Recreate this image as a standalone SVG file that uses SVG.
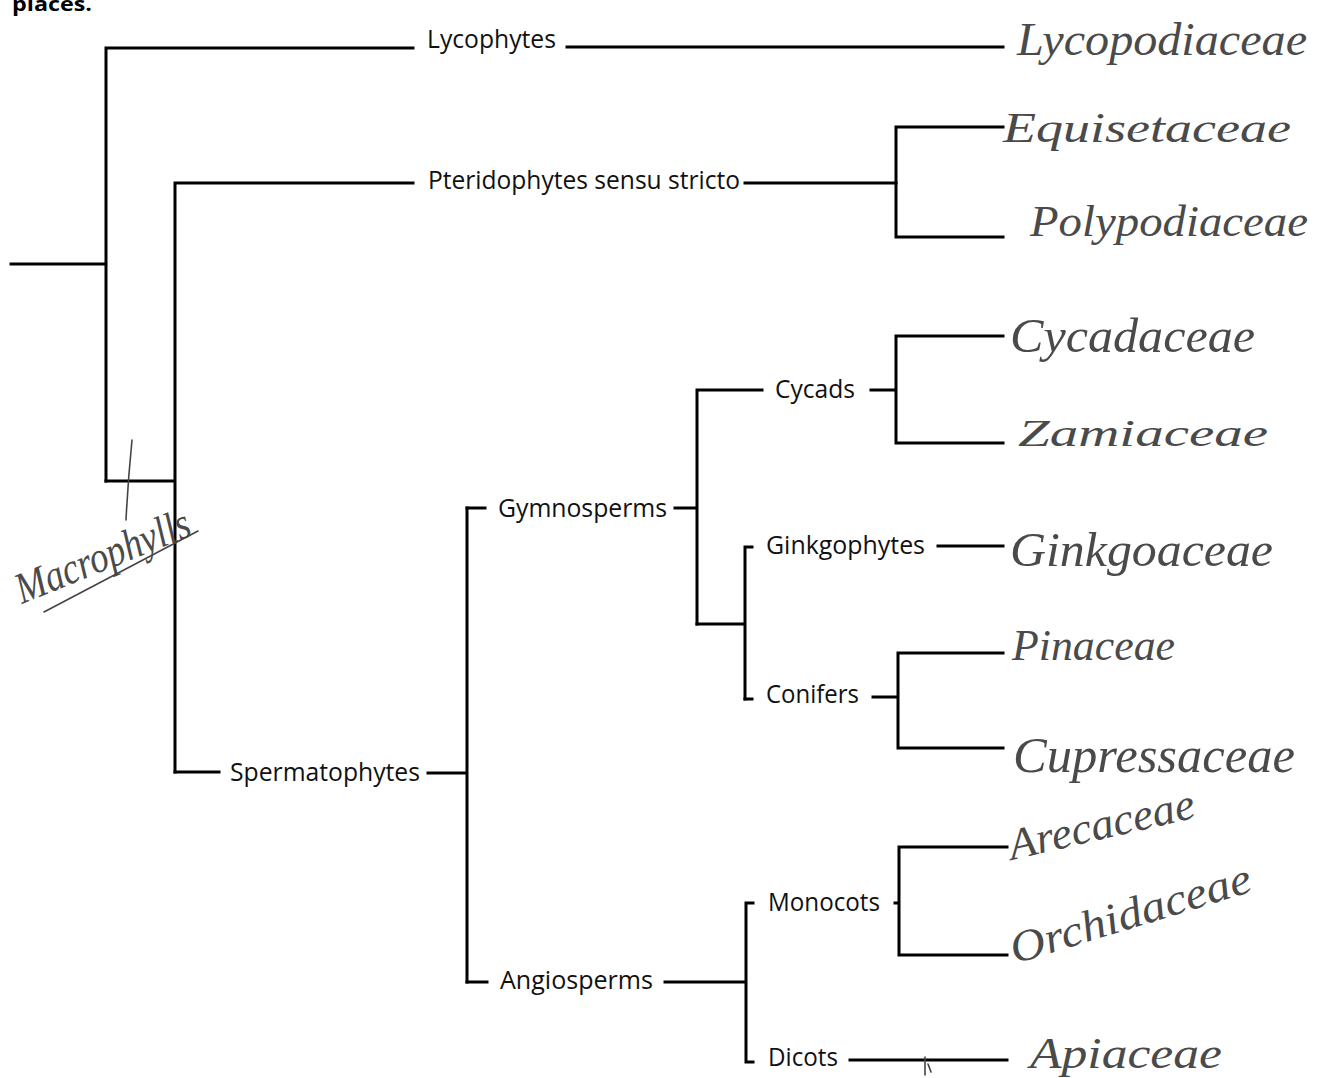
<svg xmlns="http://www.w3.org/2000/svg" width="1335" height="1078" viewBox="0 0 1335 1078">
  <style>
    .edge { fill: none; stroke: #000; stroke-width: 3; stroke-linecap: square; }
    .lbl { font-family: "Open Sans", "Liberation Sans", sans-serif; font-size: 25px; fill: #111; }
    .hand { font-family: "Liberation Serif", "DejaVu Serif", serif; font-style: italic; fill: #4a4a4a; }
    .pen { fill: none; stroke: #444; stroke-width: 1.6; stroke-linecap: round; }
    .head { font-family: "Open Sans", "Liberation Sans", sans-serif; font-weight: bold; font-size: 20px; fill: #000; }
  </style>
  <rect width="1335" height="1078" fill="#fff"/>

  <!-- heading fragment at the top edge -->
  <text class="head" x="12" y="11" textLength="80" lengthAdjust="spacingAndGlyphs">places.</text>

  <!-- tree branches -->
  <g id="connectors">
    <path class="edge" d="M11 264 H106 M106 48 V481 M106 48 H413 M567 47 H1003"/>
    <path class="edge" d="M106 481 H175 M175 183 V772 M175 183 H413 M745 183 H896"/>
    <path class="edge" d="M896 127 V237 M896 127 H1003 M896 237 H1003"/>
    <path class="edge" d="M175 772 H219 M428 773 H467 M467 508 V982"/>
    <path class="edge" d="M467 508 H485 M675 508 H697 M697 390 V624 M697 390 H762"/>
    <path class="edge" d="M871 390 H896 M896 336 V443 M896 336 H1003 M896 443 H1003"/>
    <path class="edge" d="M697 624 H745 M745 547 V699 M745 547 H752 M938 546 H1003"/>
    <path class="edge" d="M745 699 H752 M873 697 H898 M898 653 V748 M898 653 H1003 M898 748 H1003"/>
    <path class="edge" d="M467 982 H487 M665 982 H746 M746 903 V1062 M746 903 H753 M746 1062 H753"/>
    <path class="edge" d="M895 903 H899 M899 847 V955 M899 847 H1007 M899 955 H1007 M850 1060 H1007"/>
  </g>

  <!-- printed clade labels -->
  <g id="lycophytes"><text class="lbl" x="427" y="48" textLength="129" lengthAdjust="spacingAndGlyphs">Lycophytes</text></g>
  <g id="pteridophytes"><text class="lbl" x="428" y="189" textLength="312" lengthAdjust="spacingAndGlyphs">Pteridophytes sensu stricto</text></g>
  <g id="spermatophytes"><text class="lbl" x="230" y="781" textLength="190" lengthAdjust="spacingAndGlyphs">Spermatophytes</text></g>
  <g id="gymnosperms"><text class="lbl" x="498" y="517" textLength="169" lengthAdjust="spacingAndGlyphs">Gymnosperms</text></g>
  <g id="cycads"><text class="lbl" x="775" y="398" textLength="80" lengthAdjust="spacingAndGlyphs">Cycads</text></g>
  <g id="ginkgophytes"><text class="lbl" x="766" y="554" textLength="159" lengthAdjust="spacingAndGlyphs">Ginkgophytes</text></g>
  <g id="conifers"><text class="lbl" x="766" y="703" textLength="93" lengthAdjust="spacingAndGlyphs">Conifers</text></g>
  <g id="angiosperms"><text class="lbl" x="500" y="989" textLength="153" lengthAdjust="spacingAndGlyphs">Angiosperms</text></g>
  <g id="monocots"><text class="lbl" x="768" y="911" textLength="112" lengthAdjust="spacingAndGlyphs">Monocots</text></g>
  <g id="dicots"><text class="lbl" x="768" y="1066" textLength="70" lengthAdjust="spacingAndGlyphs">Dicots</text></g>

  <!-- handwritten family names -->
  <g id="lycopodiaceae"><text class="hand" x="1017" y="55" font-size="46" textLength="290" lengthAdjust="spacingAndGlyphs">Lycopodiaceae</text></g>
  <g id="equisetaceae"><text class="hand" x="1003" y="142" font-size="42" textLength="288" lengthAdjust="spacingAndGlyphs">Equisetaceae</text></g>
  <g id="polypodiaceae"><text class="hand" x="1030" y="236" font-size="44" textLength="278" lengthAdjust="spacingAndGlyphs">Polypodiaceae</text></g>
  <g id="cycadaceae"><text class="hand" x="1010" y="352" font-size="48" textLength="245" lengthAdjust="spacingAndGlyphs">Cycadaceae</text></g>
  <g id="zamiaceae"><text class="hand" x="1018" y="446" font-size="38" textLength="250" lengthAdjust="spacingAndGlyphs">Zamiaceae</text></g>
  <g id="ginkgoaceae"><text class="hand" x="1010" y="566" font-size="48" textLength="263" lengthAdjust="spacingAndGlyphs">Ginkgoaceae</text></g>
  <g id="pinaceae"><text class="hand" x="1012" y="660" font-size="44" textLength="163" lengthAdjust="spacingAndGlyphs">Pinaceae</text></g>
  <g id="cupressaceae"><text class="hand" x="1013" y="772" font-size="50" textLength="282" lengthAdjust="spacingAndGlyphs">Cupressaceae</text></g>
  <g id="arecaceae"><text class="hand" x="1012" y="860" font-size="44" textLength="190" lengthAdjust="spacingAndGlyphs" transform="rotate(-13 1012 860)">Arecaceae</text></g>
  <g id="orchidaceae"><text class="hand" x="1015" y="964" font-size="44" textLength="250" lengthAdjust="spacingAndGlyphs" transform="rotate(-17 1015 964)">Orchidaceae</text></g>
  <g id="apiaceae"><text class="hand" x="1030" y="1068" font-size="44" textLength="192" lengthAdjust="spacingAndGlyphs">Apiaceae</text></g>

  <!-- handwritten annotation on the macrophyll branch -->
  <g id="macrophylls">
    <text class="hand" x="22" y="604" font-size="44" textLength="185" lengthAdjust="spacingAndGlyphs" transform="rotate(-22 22 604)">Macrophylls</text>
    <path class="pen" d="M44 612 L198 531"/>
    <path class="pen" d="M132 440 Q128 480 126 520"/>
  </g>
  <path class="pen" d="M925 1057 V1075 M928 1064 l3 8"/>
</svg>
